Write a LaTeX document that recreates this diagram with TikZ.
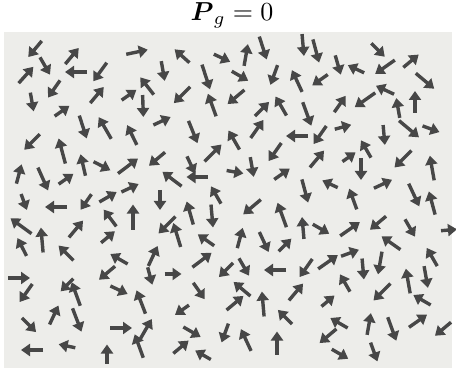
\documentclass[tikz,border=0pt]{standalone}
\usepackage{amsmath}
\usetikzlibrary{arrows.meta}
\definecolor{Paper}{HTML}{EDEDEA}
\definecolor{Lead}{HTML}{474747}
\tikzset{
  field/.style={fill=Paper,draw=none},
  spin/.style={-{Triangle[length=9pt,width=12pt]},line width=3.4pt,draw=Lead},
  heading/.style={scale=2.6,inner sep=0pt,anchor=base}
}
\begin{document}
\begin{tikzpicture}[x=1pt,y=-1pt]
  \useasboundingbox (0,0) rectangle (456,369);
  \fill[field] (4,32) rectangle (452,368);
  \node[heading] (title) at (232,21) {$\boldsymbol{P}_g = 0$};

  \foreach \x/\y/\a/\l in {
    35/49/230/21, 72/56/50/21, 137/52/12/22, 182/56/138/20, 222/58/335/18,
    26/75/48/22, 45/66/300/20, 76/72/180/22, 100/72/234/23, 163/71/280/20,
    206/77/288/26, 54/89/235/21, 97/95/50/21, 129/95/35/18, 147/86/128/22,
    182/95/225/23, 143/106/272/22, 212/105/110/24, 32/102/280/19, 62/111/35/18,
    83/127/288/24, 105/128/120/25, 162/121/25/19, 132/135/116/22, 193/132/292/24,
    32/142/225/22, 62/151/105/26, 213/153/45/24, 83/165/103/22, 102/166/333/19,
    128/166/37/25, 157/159/220/21, 191/165/295/19, 197/177/180/21, 19/174/75/20,
    43/179/294/25, 66/179/35/18, 172/179/143/24, 130/188/25/19, 108/197/30/20,
    216/195/120/20, 24/202/290/17, 56/207/180/22, 86/202/235/19, 160/200/270/20,
    190/213/106/24, 212/216/275/23, 133/217/90/25, 110/218/127/21, 21/226/144/26,
    76/229/50/22, 167/225/225/24, 177/235/107/25, 42/240/95/25, 108/237/40/18,
    206/240/145/20, 22/247/117/20, 66/253/135/21, 153/256/65/22, 119/259/150/20,
    202/260/37/24, 107/273/220/21, 19/278/0/22, 150/276/285/18, 173/274/0/17,
    226/270/225/20, 26/293/235/22, 67/285/225/18, 76/294/110/25, 119/290/335/19,
    141/302/111/25, 199/291/305/20, 182/310/215/17, 54/315/65/21, 77/320/291/25,
    29/325/315/20, 121/328/0/22, 146/329/60/23, 192/332/330/20, 225/333/250/20,
    139/346/110/25, 181/347/40/20, 32/350/180/22, 67/346/168/17, 107/354/90/19,
    203/355/150/18,
    246/55/80/22, 263/48/288/24, 303/45/275/22, 316/51/285/24, 378/50/315/19,
    240/76/330/19, 274/75/250/21, 338/65/286/20, 356/69/155/18, 385/67/215/24,
    411/61/40/20, 297/81/115/24, 320/80/215/19, 425/81/320/24, 236/97/220/22,
    385/90/155/20, 365/100/215/25, 340/104/55/20, 262/109/45/20, 281/106/120/22,
    307/114/290/25, 398/108/100/20, 415/102/90/22, 234/140/120/22, 257/129/55/22,
    297/136/180/22, 320/135/235/22, 343/127/15/17, 384/135/275/20, 409/129/320/26,
    431/129/340/18, 366/149/120/20, 275/152/235/22, 317/159/50/22, 349/157/35/16,
    403/159/225/24, 432/168/100/25, 235/172/350/17, 252/167/280/20, 361/169/270/22,
    282/174/35/19, 330/184/155/17, 383/184/25/20, 305/191/285/24, 353/199/110/22,
    414/195/295/25, 432/203/105/24, 252/207/220/23, 282/215/110/26, 303/228/95/22,
    321/229/330/19, 350/229/35/24, 378/223/220/21, 410/228/300/20, 449/230/5/16,
    240/238/75/21, 264/242/295/22, 285/245/45/18, 391/243/145/23, 350/253/20/19,
    432/257/120/21, 244/267/300/20, 275/270/180/22, 306/268/235/22, 328/262/35/24,
    363/269/275/21, 380/263/260/23, 408/281/100/25, 426/277/280/22, 345/283/120/20,
    242/289/140/22, 235/303/40/22, 263/304/95/25, 296/292/50/22, 328/301/40/17,
    382/292/225/24, 422/300/150/20, 285/317/135/20, 339/323/150/20, 369/324/80/22,
    392/329/290/25, 418/321/35/22, 443/329/220/21, 246/340/115/24, 277/343/90/23,
    328/336/220/22, 340/354/330/19, 374/352/290/20}
    \draw[spin] (\x,\y) ++(180-\a:\l/2) -- ++(-\a:\l);
\end{tikzpicture}
\end{document}
